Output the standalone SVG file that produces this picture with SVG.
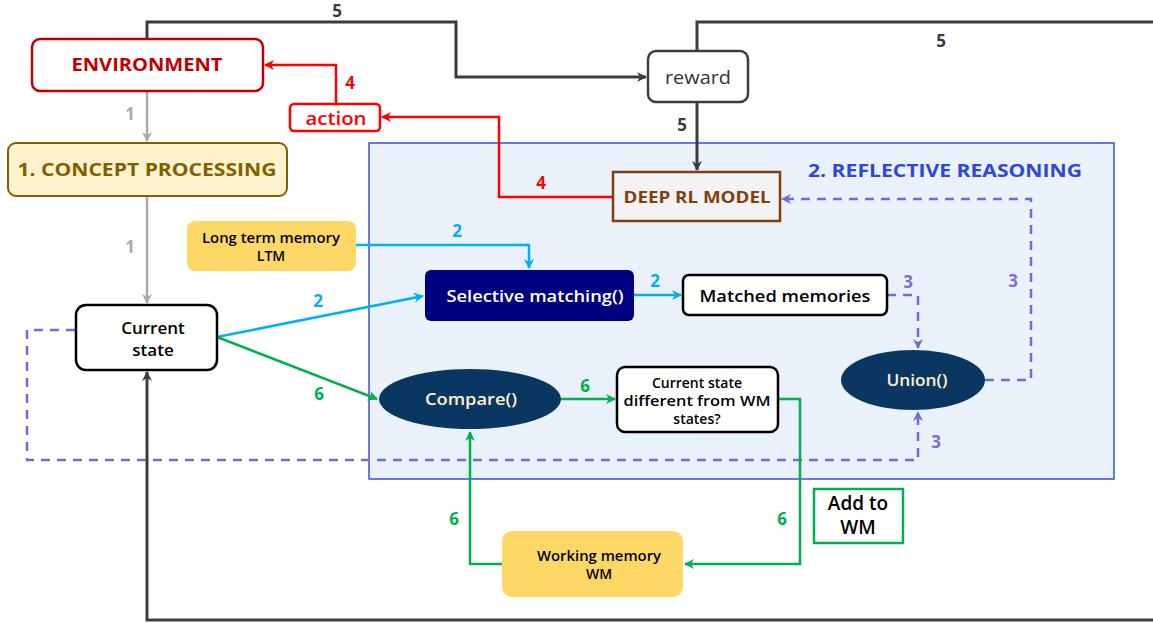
<svg xmlns="http://www.w3.org/2000/svg" width="1153" height="623" viewBox="0 0 1153 623">
<defs>
<style>
text{font-family:"Open Sans","Liberation Sans",sans-serif;text-anchor:middle;dominant-baseline:central}
.lbl{font-size:17px;font-weight:700}
.ln{fill:none;stroke-width:2.5}
.blk{stroke:#3c3c3c;stroke-width:3}
.gry{stroke:#aaaaaa}
.red{stroke:#ff0000}
.blu{stroke:#00b0f0}
.grn{stroke:#00b050}
.pur{stroke:#6b6fd1;stroke-dasharray:9 7}
</style>
<marker id="mBlk" viewBox="0 0 10 10" refX="9" refY="5" markerWidth="10" markerHeight="10" markerUnits="userSpaceOnUse" orient="auto"><path d="M0,0L10,5L0,10L3,5z" fill="#3c3c3c"/></marker>
<marker id="mGry" viewBox="0 0 10 10" refX="9" refY="5" markerWidth="10" markerHeight="10" markerUnits="userSpaceOnUse" orient="auto"><path d="M0,0L10,5L0,10L3,5z" fill="#aaaaaa"/></marker>
<marker id="mRed" viewBox="0 0 10 10" refX="9" refY="5" markerWidth="10" markerHeight="10" markerUnits="userSpaceOnUse" orient="auto"><path d="M0,0L10,5L0,10L3,5z" fill="#ff0000"/></marker>
<marker id="mBlu" viewBox="0 0 10 10" refX="9" refY="5" markerWidth="10" markerHeight="10" markerUnits="userSpaceOnUse" orient="auto"><path d="M0,0L10,5L0,10L3,5z" fill="#00b0f0"/></marker>
<marker id="mGrn" viewBox="0 0 10 10" refX="9" refY="5" markerWidth="10" markerHeight="10" markerUnits="userSpaceOnUse" orient="auto"><path d="M0,0L10,5L0,10L3,5z" fill="#00b050"/></marker>
<marker id="mPur" viewBox="0 0 10 10" refX="9" refY="5" markerWidth="10" markerHeight="10" markerUnits="userSpaceOnUse" orient="auto"><path d="M0,0L10,5L0,10L3,5z" fill="#6b6fd1"/></marker>
</defs>
<rect width="1153" height="623" fill="#ffffff"/>

<g id="reflective-reasoning">
<rect x="369" y="143" width="745" height="336" fill="#eaf1fb" stroke="#3d4fdb" stroke-width="1.5"/>
<text x="945" y="170" style="font-size:18px;font-weight:700" fill="#2f46d8" textLength="274" lengthAdjust="spacingAndGlyphs">2. REFLECTIVE REASONING</text>
</g>

<g id="connectors">
<path class="ln blk" d="M147,39V22H456V77H646" marker-end="url(#mBlk)"/>
<path class="ln blk" d="M697,52V22H1160"/>
<path class="ln blk" d="M1160,620H147V372" marker-end="url(#mBlk)"/>
<path class="ln blk" d="M697,102V170" marker-end="url(#mBlk)"/>
<path class="ln gry" d="M147,91V141" marker-end="url(#mGry)"/>
<path class="ln gry" d="M147,196V303" marker-end="url(#mGry)"/>
<path class="ln red" d="M336,104V65H265" marker-end="url(#mRed)"/>
<path class="ln red" d="M613,197H499V117H382" marker-end="url(#mRed)"/>
<path class="ln blu" d="M356,245H529V268" marker-end="url(#mBlu)"/>
<path class="ln blu" d="M217,337L423,296" marker-end="url(#mBlu)"/>
<path class="ln blu" d="M634,295H681" marker-end="url(#mBlu)"/>
<path class="ln pur" d="M887,295H918V348" marker-end="url(#mPur)"/>
<path class="ln pur" d="M985,380H1031V199H782" marker-end="url(#mPur)"/>
<path class="ln pur" d="M75,330H27V460H918V412" marker-end="url(#mPur)"/>
<path class="ln grn" d="M217,337L377,399" marker-end="url(#mGrn)"/>
<path class="ln grn" d="M561,399H615" marker-end="url(#mGrn)"/>
<path class="ln grn" d="M778,399H800V564H685" marker-end="url(#mGrn)"/>
<path class="ln grn" d="M502,564H470V432" marker-end="url(#mGrn)"/>
<g class="lbl">
<text x="337" y="10" fill="#3c3c3c">5</text>
<text x="941" y="40" fill="#3c3c3c">5</text>
<text x="682" y="124" fill="#3c3c3c">5</text>
<text x="130" y="113" fill="#aaaaaa">1</text>
<text x="130" y="246" fill="#aaaaaa">1</text>
<text x="350" y="82" fill="#ff0000">4</text>
<text x="541" y="182" fill="#ff0000">4</text>
<text x="457" y="230" fill="#00b0f0">2</text>
<text x="318" y="300" fill="#00b0f0">2</text>
<text x="655" y="280" fill="#00b0f0">2</text>
<text x="908" y="281" fill="#7b6fd1">3</text>
<text x="1013" y="280" fill="#7b6fd1">3</text>
<text x="936" y="441" fill="#7b6fd1">3</text>
<text x="319" y="393" fill="#00b050">6</text>
<text x="585" y="385" fill="#00b050">6</text>
<text x="454" y="518" fill="#00b050">6</text>
<text x="782" y="518" fill="#00b050">6</text>
</g>
</g>

<g id="environment">
<rect x="32" y="39" width="231" height="52" rx="8" fill="#ffffff" stroke="#c00000" stroke-width="2.5"/>
<text x="147" y="64" style="font-size:17px;font-weight:700" fill="#c00000" textLength="151" lengthAdjust="spacingAndGlyphs">ENVIRONMENT</text>
</g>

<g id="reward">
<rect x="648" y="51" width="100" height="51" rx="8" fill="#ffffff" stroke="#3c3c3c" stroke-width="2.5"/>
<text x="698" y="77" style="font-size:18px" fill="#333333" textLength="66" lengthAdjust="spacingAndGlyphs">reward</text>
</g>

<g id="action">
<rect x="290" y="104" width="90" height="27" rx="4" fill="#ffffff" stroke="#ff0000" stroke-width="2.5"/>
<text x="336" y="118" style="font-size:18px;font-weight:600" fill="#ff0000" textLength="61" lengthAdjust="spacingAndGlyphs">action</text>
</g>

<g id="concept-processing">
<rect x="8" y="143" width="279" height="53" rx="8" fill="#fff2cc" stroke="#7f6000" stroke-width="2"/>
<text x="147" y="169" style="font-size:18px;font-weight:700" fill="#7f6000" textLength="259" lengthAdjust="spacingAndGlyphs">1. CONCEPT PROCESSING</text>
</g>

<g id="deep-rl-model">
<rect x="613" y="172" width="167" height="49" fill="#f3f3f3" stroke="#7f3f0f" stroke-width="2.5"/>
<text x="697" y="197" style="font-size:16px;font-weight:700" fill="#7f3f0f" textLength="147" lengthAdjust="spacingAndGlyphs">DEEP RL MODEL</text>
</g>

<g id="ltm">
<rect x="187" y="221" width="169" height="50" rx="8" fill="#fdd866"/>
<text x="271" y="237" style="font-size:14px;font-weight:600" fill="#000000" textLength="138" lengthAdjust="spacingAndGlyphs">Long term memory</text>
<text x="271" y="255" style="font-size:14px;font-weight:600" fill="#000000">LTM</text>
</g>

<g id="current-state">
<rect x="76" y="305" width="141" height="65" rx="10" fill="#ffffff" stroke="#000000" stroke-width="2.5"/>
<text x="153" y="327" style="font-size:17px;font-weight:600" fill="#000000">Current</text>
<text x="153" y="349" style="font-size:17px;font-weight:600" fill="#000000">state</text>
</g>

<g id="selective-matching">
<rect x="425" y="270" width="209" height="51" rx="6" fill="#000080"/>
<text x="535" y="296" style="font-size:16px;font-weight:600" fill="#ffffff" textLength="177" lengthAdjust="spacingAndGlyphs">Selective matching()</text>
</g>

<g id="matched-memories">
<rect x="683" y="275" width="204" height="40" rx="6" fill="#ffffff" stroke="#000000" stroke-width="2.5"/>
<text x="785" y="295" style="font-size:17px;font-weight:600" fill="#000000" textLength="171" lengthAdjust="spacingAndGlyphs">Matched memories</text>
</g>

<g id="union">
<ellipse cx="913" cy="380" rx="72" ry="30" fill="#0a3761"/>
<text x="917" y="380" style="font-size:16px;font-weight:600" fill="#fff2cc" textLength="61" lengthAdjust="spacingAndGlyphs">Union()</text>
</g>

<g id="compare">
<ellipse cx="470" cy="399" rx="91" ry="30" fill="#0a3761"/>
<text x="471" y="399" style="font-size:16px;font-weight:600" fill="#fff2cc" textLength="92" lengthAdjust="spacingAndGlyphs">Compare()</text>
</g>

<g id="different-from-wm">
<rect x="617" y="367" width="161" height="65" rx="8" fill="#ffffff" stroke="#000000" stroke-width="2.5"/>
<text x="697" y="382" style="font-size:14px;font-weight:600" fill="#000000">Current state</text>
<text x="697" y="400" style="font-size:14px;font-weight:600" fill="#000000" textLength="147" lengthAdjust="spacingAndGlyphs">different from WM</text>
<text x="697" y="418" style="font-size:14px;font-weight:600" fill="#000000">states?</text>
</g>

<g id="working-memory">
<rect x="502" y="531" width="181" height="66" rx="10" fill="#fdd866"/>
<text x="599" y="555" style="font-size:14px;font-weight:600" fill="#000000" textLength="124" lengthAdjust="spacingAndGlyphs">Working memory</text>
<text x="599" y="573" style="font-size:14px;font-weight:600" fill="#000000">WM</text>
</g>

<g id="add-to-wm">
<rect x="814" y="489" width="89" height="54" fill="#ffffff" stroke="#00b050" stroke-width="2.5"/>
<text x="858" y="503" style="font-size:19px;font-weight:600" fill="#000000">Add to</text>
<text x="858" y="527" style="font-size:19px;font-weight:600" fill="#000000">WM</text>
</g>
</svg>
